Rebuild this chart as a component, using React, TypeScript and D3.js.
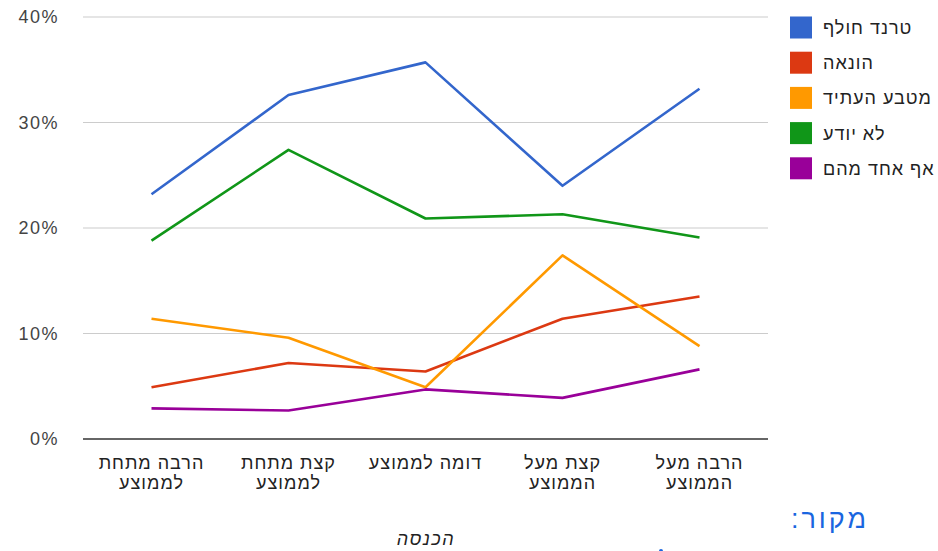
import React from "react";
import * as d3 from "d3";

const categories: string[][] = [
  ["הרבה מתחת", "לממוצע"],
  ["קצת מתחת", "לממוצע"],
  ["דומה לממוצע"],
  ["קצת מעל", "הממוצע"],
  ["הרבה מעל", "הממוצע"],
];

const seriesNames = ["טרנד חולף", "הונאה", "מטבע העתיד", "לא יודע", "אף אחד מהם"];
const seriesColors = ["#3366cc", "#dc3912", "#ff9900", "#109618", "#990099"];

const trend = [23.2, 32.6, 35.7, 24.0, 33.2];
const fraud = [4.9, 7.2, 6.4, 11.4, 13.5];
const future = [11.4, 9.6, 4.9, 17.4, 8.8];
const dontKnow = [18.8, 27.4, 20.9, 21.3, 19.1];
const none = [2.9, 2.7, 4.7, 3.9, 6.6];

const seriesValues = [trend, fraud, future, dontKnow, none];
const yTicks = [0, 10, 20, 30, 40];

const W = 938;
const H = 551;
const left = 83;
const right = 768;
const top = 17;
const bottom = 439;

export default function App() {
  const x = d3
    .scalePoint<number>()
    .domain(d3.range(categories.length))
    .range([left, right])
    .padding(0.5);
  const y = d3.scaleLinear().domain([0, 40]).range([bottom, top]);
  const line = d3
    .line<number>()
    .x((_, i) => x(i) as number)
    .y((d) => y(d));
  const font = "Arial, 'Liberation Sans', sans-serif";

  return (
    <svg
      width={W}
      height={H}
      style={{ position: "absolute", left: 0, top: 0, background: "#fff" }}
      fontFamily={font}
    >
      {yTicks.map((t) => (
        <g key={t}>
          {t > 0 && (
            <line x1={left} x2={right} y1={y(t)} y2={y(t)} stroke="#cccccc" strokeWidth={1.2} />
          )}
          <text
            x={59}
            y={y(t)}
            dy="0.36em"
            textAnchor="end"
            fontSize={18}
            fill="#444"
            letterSpacing={1.5}
          >
            {t}%
          </text>
        </g>
      ))}
      {seriesValues.map((vals, i) => (
        <path
          key={i}
          d={line(vals) as string}
          fill="none"
          stroke={seriesColors[i]}
          strokeWidth={2.6}
          strokeLinejoin="round"
        />
      ))}
      <line x1={left} x2={right} y1={bottom} y2={bottom} stroke="#333" strokeWidth={1.5} />
      {categories.map((lines, i) => (
        <text
          key={i}
          x={x(i)}
          y={469}
          textAnchor="middle"
          fontSize={18}
          letterSpacing={1}
          fill="#222"
        >
          {lines.map((l, j) => (
            <tspan key={j} x={x(i)} dy={j === 0 ? 0 : 20}>
              {l}
            </tspan>
          ))}
        </text>
      ))}
      <text
        x={426}
        y={545}
        textAnchor="middle"
        fontSize={18}
        letterSpacing={1.5}
        fontStyle="italic"
        fill="#222"
      >
        הכנסה
      </text>
      {seriesNames.map((n, i) => (
        <g key={n} transform={`translate(790, ${27.5 + i * 35.2})`}>
          <rect x={0} y={-11} width={22} height={22} fill={seriesColors[i]} />
          <text x={33} y={0} dy="0.36em" fontSize={18} letterSpacing={1} fill="#222">
            {n}
          </text>
        </g>
      ))}
      <text
        x={830}
        y={528}
        textAnchor="middle"
        direction="rtl"
        fontSize={27}
        letterSpacing={3}
        fill="#1a66e0"
      >
        מקור:
      </text>
      <circle cx={661} cy={551} r={2} fill="#1a66e0" />
    </svg>
  );
}
